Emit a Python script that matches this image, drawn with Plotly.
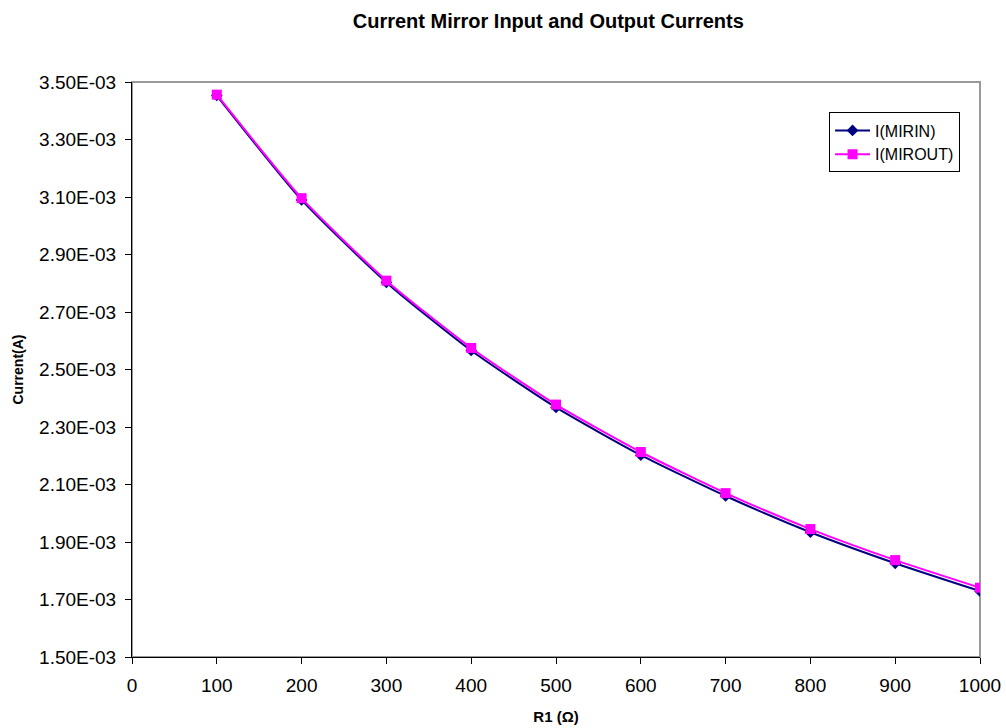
import plotly.graph_objects as go

# Sweep of the resistor R1 (ohms)
r1 = [100, 200, 300, 400, 500, 600, 700, 800, 900, 1000]

# Mirror input and output currents (A)
i_mirin = [3.453e-3, 3.090e-3, 2.803e-3, 2.566e-3, 2.368e-3,
           2.202e-3, 2.060e-3, 1.934e-3, 1.826e-3, 1.729e-3]
i_mirout = [3.456e-3, 3.096e-3, 2.809e-3, 2.575e-3, 2.378e-3,
            2.213e-3, 2.070e-3, 1.945e-3, 1.837e-3, 1.741e-3]

# Y axis ticks
y_ticks = [1.5e-3, 1.7e-3, 1.9e-3, 2.1e-3, 2.3e-3, 2.5e-3, 2.7e-3, 2.9e-3, 3.1e-3, 3.3e-3, 3.5e-3]
y_tick_labels = ["1.50E-03", "1.70E-03", "1.90E-03", "2.10E-03", "2.30E-03", "2.50E-03",
                 "2.70E-03", "2.90E-03", "3.10E-03", "3.30E-03", "3.50E-03"]
x_ticks = [0, 100, 200, 300, 400, 500, 600, 700, 800, 900, 1000]

FONT = "Liberation Sans, Arial, sans-serif"

fig = go.Figure()
fig.add_trace(go.Scatter(
    x=r1, y=i_mirin, name="I(MIRIN)", mode="lines+markers",
    line=dict(color="#000080", width=2, shape="spline", smoothing=0.6),
    marker=dict(symbol="diamond", size=9, color="#000080"),
))
fig.add_trace(go.Scatter(
    x=r1, y=i_mirout, name="I(MIROUT)", mode="lines+markers",
    line=dict(color="#FF00FF", width=2, shape="spline", smoothing=0.6),
    marker=dict(symbol="square", size=10, color="#FF00FF"),
))

fig.update_layout(
    width=1006, height=728,
    margin=dict(l=132, r=26, t=82, b=71),
    paper_bgcolor="white", plot_bgcolor="white",
    font=dict(family=FONT, color="black"),
    title=dict(text="<b>Current Mirror Input and Output Currents</b>",
               x=0.545, xanchor="center", y=0.971, yanchor="middle",
               font=dict(size=20, family=FONT)),
    showlegend=True,
    legend=dict(x=0.822, y=0.947, xanchor="left", yanchor="top",
                bgcolor="white", bordercolor="black", borderwidth=1,
                font=dict(size=16, family=FONT), itemwidth=35,
                tracegroupgap=0),
    shapes=[dict(type="rect", xref="paper", yref="paper", x0=0, y0=0, x1=1, y1=1,
                 line=dict(color="#999999", width=2), layer="below")],
)

fig.update_xaxes(
    range=[0, 1000], tickvals=x_ticks, ticktext=[str(v) for v in x_ticks],
    automargin=False,
    showgrid=False, zeroline=False, showline=True, linecolor="black", linewidth=1,
    ticks="outside", ticklen=6, tickcolor="black", ticklabelstandoff=5,
    tickfont=dict(size=19, family=FONT),
    title=dict(text="<b>R1 (Ω)</b>", font=dict(size=15, family=FONT), standoff=16),
)
fig.update_yaxes(
    range=[1.5e-3, 3.5e-3], tickvals=y_ticks, ticktext=y_tick_labels,
    automargin=False,
    showgrid=False, zeroline=False, showline=True, linecolor="black", linewidth=1,
    ticks="outside", ticklen=6, tickcolor="black", ticklabelstandoff=5,
    tickfont=dict(size=19, family=FONT),
    title=dict(text="<b>Current(A)</b>", font=dict(size=14, family=FONT), standoff=12),
)

fig.write_html("out.html")
